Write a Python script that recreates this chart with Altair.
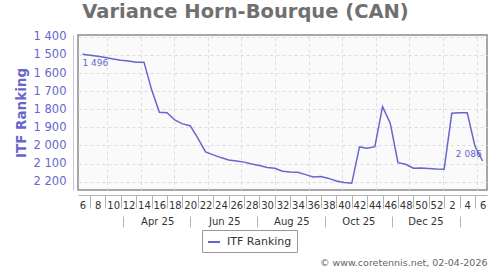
import altair as alt
import pandas as pd
import json

BLUE = "#6666cc"

# ---- data -------------------------------------------------------------
first_date = "2025-02-07"
ranks = [1496, 1502, 1508, 1514, 1522, 1529, 1533, 1541, 1540, 1693,
         1817, 1819, 1859, 1881, 1891, 1960, 2036, 2052, 2067, 2080,
         2086, 2092, 2102, 2111, 2122, 2126, 2142, 2146, 2148, 2161,
         2174, 2172, 2182, 2196, 2205, 2209, 2008, 2015, 2007, 1786,
         1877, 2095, 2104, 2126, 2124, 2127, 2130, 2131, 1822, 1820,
         1819, 2003, 2086]
week_labels = ["6", "8", "10", "12", "14", "16", "18", "20", "22", "24",
               "26", "28", "30", "32", "34", "36", "38", "40", "42", "44",
               "46", "48", "50", "52", "2", "4", "6"]
month_label_dates = ["2025-04-16", "2025-06-16", "2025-08-16", "2025-10-16", "2025-12-16"]
month_sep_dates = ["2025-03-16", "2025-05-16", "2025-07-16", "2025-09-16", "2025-11-16", "2026-01-16"]
grid_dates = ["2025-03-01", "2025-04-01", "2025-05-01", "2025-06-01", "2025-07-01", "2025-08-01",
              "2025-09-01", "2025-10-01", "2025-11-01", "2025-12-01", "2026-01-01", "2026-02-01"]
domain_dates = ["2025-02-03", "2026-02-10"]
y_ticks = [1400, 1500, 1600, 1700, 1800, 1900, 2000, 2100, 2200]
y_domain = [1390, 2246]
footer = "\u00a9 www.coretennis.net, 02-04-2026"
title = "Variance Horn-Bourque (CAN)"

dates = pd.date_range(first_date, periods=len(ranks), freq="7D")
df = pd.DataFrame({
    "date": dates.strftime("%Y-%m-%dT00:00:00"),
    "rank": ranks,
    "series": "ITF Ranking",
})
df["label"] = [f"{r:,}".replace(",", " ") for r in ranks]


def dt(s):
    t = pd.Timestamp(s)
    return alt.DateTime(year=t.year, month=t.month, date=t.day)


even_dates = list(dates[0::2])
odd_dates = list(dates[1::2])
label_map = {d.strftime("%Y-%m-%d"): w for d, w in zip(even_dates, week_labels)}
week_expr = json.dumps(label_map) + "[timeFormat(datum.value, '%Y-%m-%d')]"

x_scale = alt.Scale(domain=[dt(d) for d in domain_dates])

y_enc = alt.Y(
    "rank:Q",
    scale=alt.Scale(domain=y_domain, reverse=True, nice=False, zero=False),
    axis=alt.Axis(
        values=y_ticks,
        labelExpr="replace(format(datum.value, ','), ',', ' ')",
        labelFontSize=11.5, labelColor=BLUE, labelPadding=7,
        ticks=False, domain=True, domainColor="#c8c8e6", offset=5,
        grid=True, gridDash=[3, 3], gridColor="#dcdcdc",
        title="ITF Ranking", titleFontSize=13.5, titleFontWeight="bold",
        titleColor=BLUE, titlePadding=5,
    ),
)

line = alt.Chart(df).mark_line(strokeWidth=1.5).encode(
    x=alt.X("date:T", scale=x_scale, axis=alt.Axis(
        orient="bottom",
        values=[dt(d) for d in grid_dates], grid=True, gridDash=[3, 3],
        gridColor="#dcdcdc", labels=False, ticks=False, domain=False, title=None)),
    y=y_enc,
    color=alt.Color("series:N", scale=alt.Scale(range=[BLUE]), legend=alt.Legend(
        title=None, orient="none", legendX=124, legendY=195, direction="horizontal",
        symbolType="stroke", symbolStrokeWidth=2, symbolSize=144,
        labelFontSize=11, labelColor="#333333", strokeColor="#999999",
        fillColor="white", padding=5, labelOffset=6)),
)

first_ann = alt.Chart(df.iloc[[0]]).mark_text(
    align="left", baseline="middle", dy=9, fontSize=9, color=BLUE).encode(
    x=alt.X("date:T", scale=x_scale, axis=None), y=y_enc, text="label:N")
last_ann = alt.Chart(df.iloc[[-1]]).mark_text(
    align="right", baseline="middle", dx=-1, dy=-7, fontSize=9, color=BLUE).encode(
    x=alt.X("date:T", scale=x_scale, axis=None), y=y_enc, text="label:N")


def axis_layer(axis):
    return alt.Chart(df).mark_point(opacity=0).encode(
        x=alt.X("date:T", scale=x_scale, axis=axis))


week_sep = axis_layer(alt.Axis(
    orient="bottom",
    values=[dt(d) for d in odd_dates], labels=False, ticks=True, tickSize=13,
    tickColor="#b4b4b4", domain=True, domainColor="#b4b4b4", grid=False,
    offset=5, title=None))
week_lab = axis_layer(alt.Axis(
    orient="bottom",
    values=[dt(d) for d in even_dates], labelExpr=week_expr, ticks=False,
    domain=False, grid=False, offset=5, labelPadding=5, labelFontSize=10,
    labelColor="#333333", labelFlush=False, labelOverlap=False, title=None))
month_sep = axis_layer(alt.Axis(
    orient="bottom",
    values=[dt(d) for d in month_sep_dates], labels=False, ticks=True, tickSize=11,
    tickColor="#b4b4b4", domain=False, grid=False, offset=26, title=None))
month_lab = axis_layer(alt.Axis(
    orient="bottom",
    values=[dt(d) for d in month_label_dates], format="%b %y", ticks=False,
    domain=False, grid=False, offset=20, labelPadding=6, labelFontSize=10,
    labelColor="#333333", labelFlush=False, labelOverlap=False,
    title=footer, titleAnchor="end", titleFontSize=9.5, titleFontWeight="normal",
    titleColor="#666666", titlePadding=31))

chart = alt.layer(
    line, first_ann, last_ann, week_sep, week_lab, month_sep, month_lab
).resolve_axis(x="independent").properties(
    width=409, height=155,
    padding={"left": 78, "top": 35, "right": 13, "bottom": 80},
    autosize="none",
    title=alt.TitleParams(title, fontSize=19.5, fontWeight="bold", color="#707070",
                          anchor="middle", frame="group", dx=-37, dy=18, offset=11,
                          baseline="alphabetic"),
).configure(
    font="DejaVu Sans",
).configure_view(
    stroke="#8a8a8a", strokeWidth=1.5, fill="#fafafa",
)

chart.save("out.html", embed_options={"renderer": "svg", "actions": False})
